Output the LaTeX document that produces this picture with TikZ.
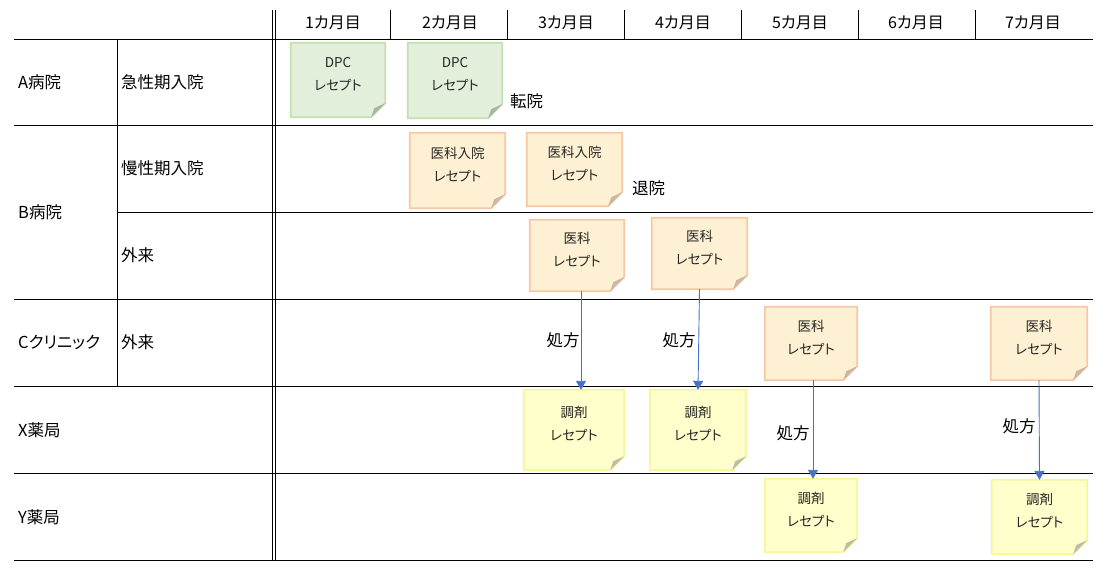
\documentclass[tikz,border=0pt]{standalone}
\usepackage{fontspec}
\setmainfont[RawFeature=+palt]{Noto Sans CJK JP}
\usetikzlibrary{arrows.meta,fit}
\pgfdeclarelayer{bg}
\pgfsetlayers{bg,main}
\definecolor{gfill}{HTML}{E2EFDA}
\definecolor{gline}{HTML}{C5DFB2}
\definecolor{gfold}{HTML}{A9B5A0}
\definecolor{ofill}{HTML}{FEF0D2}
\definecolor{oline}{HTML}{F7C8A6}
\definecolor{ofold}{HTML}{C7B9A5}
\definecolor{yfill}{HTML}{FFFFCC}
\definecolor{yline}{HTML}{F7F59C}
\definecolor{yfold}{HTML}{BDBDA5}
\definecolor{arrblue}{HTML}{4472C4}
\tikzset{
  gridline/.style={line width=0.9pt, black},
  lbl/.style={font=\fontsize{16.5}{19}\selectfont, inner sep=0, anchor=west},
  hdr/.style={font=\fontsize{16}{19}\selectfont, inner sep=0},
  plain/.style={font=\fontsize{16.5}{19}\selectfont, inner sep=0},
  notetext/.style={font=\fontsize{13.5}{23}\selectfont, align=center, inner sep=0, text=black!85},
  arr/.style={draw=arrblue, line width=0.9pt, -{Triangle[width=10pt,length=9pt]}},
}
\newcommand\mknote[7]{%
  \coordinate (#1-a) at (#3,#4);
  \coordinate (#1-b) at (#5,#6);
  \node[fit=(#1-a)(#1-b), inner sep=0] (#1) {};
  \node[notetext] (#1t) at ([yshift=6pt]#1.center) {#7};
  \begin{pgfonlayer}{bg}
    \draw[line width=1.8pt, draw=#2line, fill=#2fill, line join=miter]
      (#1.north west) -- (#1.north east) -- ([yshift=14pt]#1.south east)
      -- ([xshift=-14pt]#1.south east) -- (#1.south west) -- cycle;
    \fill[#2fold] ([xshift=-14pt]#1.south east) -- ([yshift=14pt]#1.south east)
      -- ([xshift=-11pt,yshift=9pt]#1.south east) -- cycle;
  \end{pgfonlayer}%
}
\begin{document}
\begin{tikzpicture}[x=1pt,y=-1pt]
\useasboundingbox (0,0) rectangle (1118,579);
% grid
\draw[gridline] (14,39) -- (1093,39);
\draw[gridline] (14,125) -- (1093,125);
\draw[gridline] (117,212) -- (1093,212);
\draw[gridline] (14,299) -- (1093,299);
\draw[gridline] (14,386) -- (1093,386);
\draw[gridline] (14,473) -- (1093,473);
\draw[gridline] (14,560) -- (1093,560);
\draw[gridline] (117,39) -- (117,386);
\draw[gridline] (272,10) -- (272,560);
\draw[gridline] (275.5,10) -- (275.5,560);
\foreach \x in {390,507,624,741,858,975} \draw[gridline] (\x,10) -- (\x,39);
% header
\node[hdr] (h1) at (333,23) {1カ月目};
\node[hdr] (h2) at (450,23) {2カ月目};
\node[hdr] (h3) at (566,23) {3カ月目};
\node[hdr] (h4) at (683,23) {4カ月目};
\node[hdr] (h5) at (800,23) {5カ月目};
\node[hdr] (h6) at (916,23) {6カ月目};
\node[hdr] (h7) at (1033,23) {7カ月目};
% row labels
\node[lbl] (ra) at (18,82) {A病院};
\node[lbl] (ra1) at (121,82) {急性期入院};
\node[lbl] (rb) at (18,212) {B病院};
\node[lbl] (rb1) at (121,168) {慢性期入院};
\node[lbl] (rb2) at (121,255) {外来};
\node[lbl] (rc) at (18,342) {Cクリニック};
\node[lbl] (rc1) at (121,342) {外来};
\node[lbl] (rx) at (18,430) {X薬局};
\node[lbl] (ry) at (18,517) {Y薬局};
% notes
\mknote{g1}{g}{291}{43}{385}{117}{DPC\\レセプト}
\mknote{g2}{g}{408}{43}{502}{118}{DPC\\レセプト}
\mknote{o1}{o}{410}{133}{505}{208}{医科入院\\レセプト}
\mknote{o2}{o}{527}{133}{622}{206}{医科入院\\レセプト}
\mknote{o3}{o}{530}{220}{624}{291}{医科\\レセプト}
\mknote{o4}{o}{652}{218}{747}{289}{医科\\レセプト}
\mknote{o5}{o}{765}{307}{857}{380}{医科\\レセプト}
\mknote{o6}{o}{991}{307}{1087}{380}{医科\\レセプト}
\mknote{y1}{y}{524}{390}{624}{470}{調剤\\レセプト}
\mknote{y2}{y}{650}{390}{746}{470}{調剤\\レセプト}
\mknote{y3}{y}{765}{479}{857}{552}{調剤\\レセプト}
\mknote{y4}{y}{992}{480}{1087}{554}{調剤\\レセプト}
% other labels
\node[lbl] (t1) at (510,101) {転院};
\node[lbl] (t2) at (632,188) {退院};
\node[plain] (p1) at (563,340) {処方};
\node[plain] (p2) at (679,340) {処方};
\node[plain] (p3) at (793,433) {処方};
\node[plain] (p4) at (1019,426) {処方};
% arrows
\draw[arr] ([xshift=4pt]o3.south) -- ([xshift=7pt]y1.north);
\draw[arr] (o4.south) -- (y2.north);
\draw[arr] ([xshift=2pt]o5.south) -- ([xshift=2pt]y3.north);
\draw[arr] (o6.south) -- (y4.north);
\end{tikzpicture}
\end{document}
